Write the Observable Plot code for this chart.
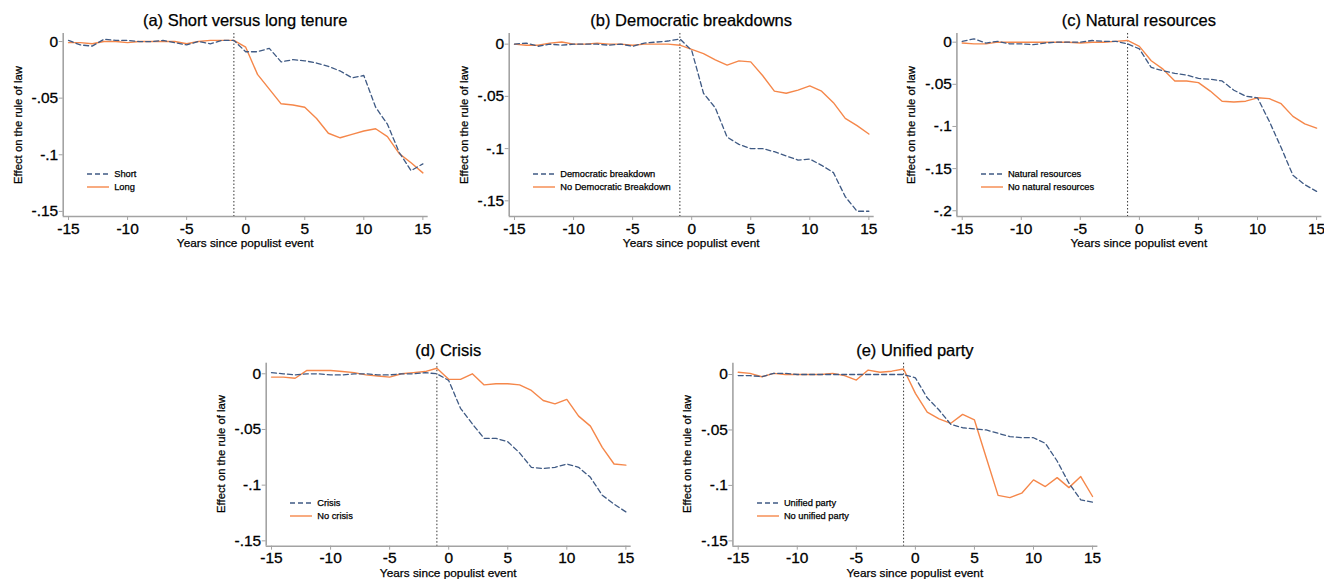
<!DOCTYPE html>
<html><head><meta charset="utf-8">
<script src="https://cdn.jsdelivr.net/npm/d3@7"></script>
<script src="https://cdn.jsdelivr.net/npm/@observablehq/plot@0.6"></script>
<style>
body{margin:0;background:#fff;font-family:"Liberation Sans",Arial,sans-serif;}
#root{position:relative;width:1324px;height:579px;overflow:hidden;background:#fff;}
.abs{position:absolute;white-space:nowrap;color:#000;-webkit-text-stroke:0.25px #000;}
.title{font-size:16.5px;transform:translate(-50%,-50%);}
.xlab{font-size:11.8px;transform:translate(-50%,-50%);}
.ylab{font-size:11.3px;transform:translate(-50%,-50%) rotate(-90deg);}
.leg{font-size:9.3px;display:flex;align-items:center;transform:translateY(-50%);}
.leg svg{margin-right:5px;}
svg.plotsvg text{stroke:#000;stroke-width:0.3px;}
</style></head>
<body><div id="root"></div>
<script>
const years = [-15,-14,-13,-12,-11,-10,-9,-8,-7,-6,-5,-4,-3,-2,-1,0,1,2,3,4,5,6,7,8,9,10,11,12,13,14,15];
const xTicks = [-15,-10,-5,0,5,10,15];
const eventYear = -1;

// (a) Short versus long tenure
const aShort = [0.001,-0.003,-0.004,0.002,0.001,0.001,0.000,0.000,0.001,-0.001,-0.003,0.000,-0.002,0.001,0.001,-0.009,-0.009,-0.006,-0.018,-0.016,-0.017,-0.019,-0.022,-0.026,-0.032,-0.030,-0.058,-0.073,-0.098,-0.114,-0.108];
const aLong  = [-0.001,-0.001,-0.002,0.000,0.000,-0.001,0.000,0.000,0.000,0.000,-0.002,0.000,0.001,0.001,0.001,-0.005,-0.029,-0.042,-0.055,-0.056,-0.058,-0.068,-0.081,-0.085,-0.082,-0.079,-0.077,-0.084,-0.099,-0.107,-0.116];
// (b) Democratic breakdowns
const bBreak   = [0.000,0.001,-0.002,0.000,-0.001,0.000,0.000,0.000,-0.001,0.000,-0.002,0.001,0.002,0.003,0.005,-0.006,-0.047,-0.061,-0.089,-0.096,-0.100,-0.100,-0.103,-0.107,-0.111,-0.110,-0.116,-0.123,-0.146,-0.160,-0.160];
const bNoBreak = [0.000,-0.001,-0.001,0.001,0.002,0.000,0.000,0.001,0.000,0.000,-0.001,0.000,0.000,0.000,-0.001,-0.005,-0.009,-0.015,-0.020,-0.016,-0.017,-0.030,-0.045,-0.047,-0.044,-0.040,-0.045,-0.056,-0.071,-0.078,-0.086];
// (c) Natural resources
const cNat   = [0.001,0.004,-0.001,0.001,-0.002,-0.002,-0.003,-0.001,0.000,0.000,0.000,0.002,0.001,0.001,-0.002,-0.008,-0.030,-0.034,-0.037,-0.039,-0.043,-0.044,-0.046,-0.057,-0.064,-0.066,-0.094,-0.125,-0.158,-0.169,-0.177];
const cNoNat = [-0.001,-0.002,-0.002,0.000,0.000,0.000,0.000,0.000,0.000,0.000,-0.001,0.000,0.000,0.001,0.002,-0.005,-0.022,-0.032,-0.046,-0.046,-0.048,-0.058,-0.070,-0.071,-0.070,-0.066,-0.067,-0.073,-0.088,-0.097,-0.102];
// (d) Crisis
const dCrisis   = [0.001,0.000,-0.001,0.000,0.000,-0.001,-0.001,0.000,0.000,-0.001,-0.001,0.000,0.000,0.001,0.000,-0.006,-0.031,-0.045,-0.058,-0.058,-0.061,-0.071,-0.084,-0.085,-0.084,-0.081,-0.084,-0.093,-0.109,-0.117,-0.124];
const dNoCrisis = [-0.003,-0.003,-0.004,0.003,0.003,0.003,0.002,0.001,-0.001,-0.002,-0.003,0.000,0.001,0.002,0.005,-0.005,-0.005,0.000,-0.010,-0.009,-0.009,-0.010,-0.015,-0.024,-0.027,-0.023,-0.038,-0.047,-0.066,-0.081,-0.082];
// (e) Unified party
const eUnified   = [-0.001,-0.001,-0.002,0.001,0.001,0.000,0.000,0.000,0.000,0.000,0.000,0.000,0.000,0.000,0.000,-0.003,-0.021,-0.032,-0.045,-0.048,-0.049,-0.050,-0.053,-0.056,-0.057,-0.057,-0.062,-0.078,-0.098,-0.113,-0.115];
const eNoUnified = [0.002,0.001,-0.002,0.001,0.000,0.000,0.000,0.000,0.001,-0.001,-0.005,0.004,0.002,0.003,0.005,-0.017,-0.034,-0.040,-0.044,-0.036,-0.041,-0.075,-0.109,-0.111,-0.107,-0.095,-0.101,-0.093,-0.102,-0.092,-0.110];

const titles = ["(a) Short versus long tenure","(b) Democratic breakdowns","(c) Natural resources","(d) Crisis","(e) Unified party"];
const legendDashed = ["Short","Democratic breakdown","Natural resources","Crisis","Unified party"];
const legendSolid  = ["Long","No Democratic Breakdown","No natural resources","No crisis","No unified party"];
const seriesDashed = [aShort,bBreak,cNat,dCrisis,eUnified];
const seriesSolid  = [aLong,bNoBreak,cNoNat,dNoCrisis,eNoUnified];
const yTicksList = [[0,-0.05,-0.1,-0.15],[0,-0.05,-0.1,-0.15],[0,-0.05,-0.1,-0.15,-0.2],[0,-0.05,-0.1,-0.15],[0,-0.05,-0.1,-0.15]];
const yDomains = [[-0.1545,0.0071],[-0.165,0.0102],[-0.2068,0.0103],[-0.1548,0.0095],[-0.1548,0.0102]];
const xLabel = "Years since populist event";
const yLabel = "Effect on the rule of law";

// layout (pixels)
const layout = [
  {left:0,   top:0,   ml:62.7, mt:33,   h:260},
  {left:440, top:0,   ml:68.7, mt:33,   h:260},
  {left:884, top:0,   ml:72.4, mt:33,   h:260},
  {left:200, top:300, ml:65.7, mt:62.7, h:279},
  {left:670, top:300, ml:62.4, mt:62.7, h:279}
];
const innerW = 365, innerH = 183, mr = 10;
const xDomain = [-15.45, 15.45];
const colDashed = "#3f5a84", colSolid = "#f5874a", axisCol = "#a3a3a3";
const dashPat = "5,3";

const root = document.getElementById("root");
const fmtY = d => d === 0 ? "0" : String(d).replace("0.", ".");

for (let i = 0; i < 5; i++) {
  const L = layout[i];
  const data = years.map((yr, j) => ({yr, v: seriesDashed[i][j], s: "dashed"}))
    .concat(years.map((yr, j) => ({yr, v: seriesSolid[i][j], s: "solid"})));
  const W = L.ml + innerW + mr;
  const plot = Plot.plot({
    width: W, height: L.h,
    marginLeft: L.ml, marginRight: mr, marginTop: L.mt, marginBottom: L.h - L.mt - innerH,
    style: {fontFamily: '"Liberation Sans", Arial, sans-serif', fontSize: "15.5px", background: "transparent", overflow: "visible"},
    x: {domain: xDomain, label: null},
    y: {domain: yDomains[i], label: null},
    marks: [
      Plot.ruleX([xDomain[0]], {stroke: axisCol, strokeWidth: 1.6}),
      Plot.ruleY([yDomains[i][0]], {stroke: axisCol, strokeWidth: 1.6}),
      Plot.axisX({ticks: xTicks, tickFormat: d => String(d), tickSize: 4, tickPadding: 2, stroke: axisCol, fill: "#000", fontSize: 15.5, label: null}),
      Plot.axisY({ticks: yTicksList[i], tickFormat: fmtY, tickSize: 4, tickPadding: 1, stroke: axisCol, fill: "#000", fontSize: 15.5, label: null}),
      Plot.ruleX([eventYear], {stroke: "#333", strokeWidth: 1, strokeDasharray: "1.5,2"}),
      Plot.lineY(data.filter(d => d.s === "solid"), {x: "yr", y: "v", stroke: colSolid, strokeWidth: 1.4}),
      Plot.lineY(data.filter(d => d.s === "dashed"), {x: "yr", y: "v", stroke: colDashed, strokeWidth: 1.3, strokeDasharray: dashPat})
    ]
  });
  plot.classList.add("plotsvg");
  plot.style.position = "absolute";
  plot.style.left = L.left + "px";
  plot.style.top = L.top + "px";
  root.appendChild(plot);

  const fx = L.left + L.ml, fy = L.top + L.mt;
  const add = (cls, txt, x, y) => {
    const d = document.createElement("div");
    d.className = "abs " + cls; d.textContent = txt;
    d.style.left = x + "px"; d.style.top = y + "px";
    root.appendChild(d); return d;
  };
  add("title", titles[i], fx + innerW / 2, fy - 13);
  add("xlab", xLabel, fx + innerW / 2, fy + innerH + 27);
  add("ylab", yLabel, fx - 45, fy + innerH / 2);
  const mkLeg = (txt, col, dash, y) => {
    const d = add("leg", "", fx + 24.5, y);
    d.innerHTML = `<svg width="22" height="6"><line x1="0" x2="22" y1="3" y2="3" stroke="${col}" stroke-width="1.4" ${dash ? `stroke-dasharray="${dashPat}"` : ""}/></svg><span>${txt}</span>`;
  };
  mkLeg(legendDashed[i], colDashed, true, fy + innerH - 42.5);
  mkLeg(legendSolid[i], colSolid, false, fy + innerH - 29.5);
}
</script></body></html>
